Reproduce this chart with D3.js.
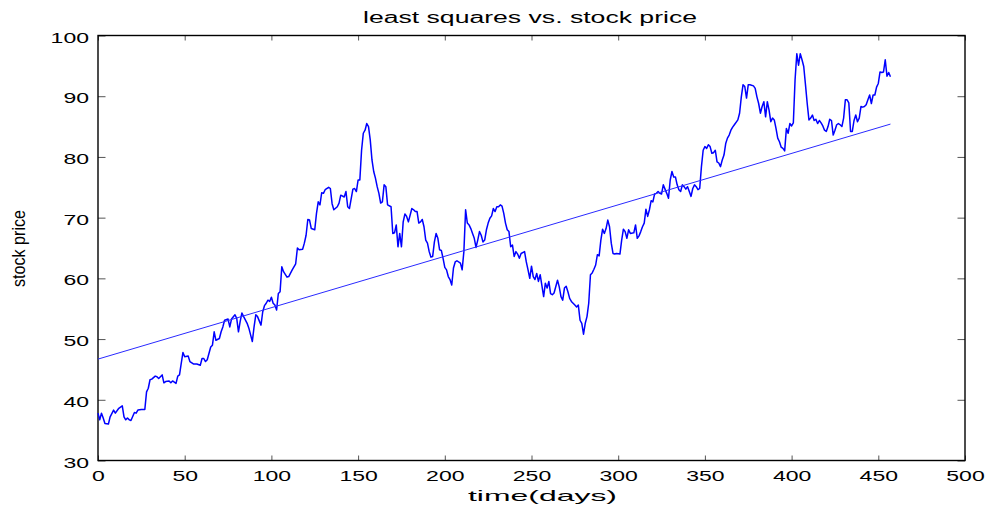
<!DOCTYPE html>
<html lang="en">
<head>
<meta charset="UTF-8">
<title>least squares vs. stock price</title>
<script src="https://cdn.jsdelivr.net/npm/d3@7"></script>
<style>
  body { margin: 0; padding: 0; background: #fff; }
  svg text { font-family: "Liberation Sans", Arial, Helvetica, sans-serif; fill: #000; }
</style>
</head>
<body>
<div id="chart"></div>
<script>
// closing price per trading day
const days = [
  0,1,2,3,4,6,7,9,10,12,14,15,16,17,18,19,21,22,23,25,27,28,29,30,31,33,34,35,37,38,39,41,42,43,45,46,47,48,49,50,
  52,53,55,57,59,60,61,62,63,65,66,67,68,70,71,72,73,75,76,77,79,80,81,82,83,84,86,87,88,89,90,91,92,93,94,95,96,97,98,99,
  100,101,102,103,104,105,106,107,109,110,112,114,115,116,118,119,120,121,122,123,125,126,127,128,129,130,131,133,134,135,136,138,139,140,142,143,144,145,147,148,
  149,150,151,152,153,154,155,156,157,158,159,160,161,162,163,164,165,166,167,169,170,171,172,173,174,175,176,177,178,179,181,182,183,184,185,186,187,188,189,190,
  191,192,193,194,195,196,197,198,199,200,201,202,203,204,205,206,207,209,210,211,212,213,214,215,216,217,218,219,220,221,222,223,224,225,226,227,228,229,230,231,
  232,233,234,235,236,237,238,239,240,241,242,243,244,246,247,248,249,250,251,252,253,254,255,257,258,259,260,261,262,263,265,266,267,268,269,270,271,272,273,275,
  276,277,278,279,280,281,282,283,284,285,286,287,288,289,290,291,292,293,294,295,296,297,298,299,301,302,303,304,305,306,307,309,310,311,312,313,314,315,316,317,
  318,319,320,321,322,323,324,325,326,327,328,329,330,331,332,333,334,335,336,337,338,339,340,341,342,343,344,345,346,347,348,349,350,351,352,353,354,355,356,357,
  358,359,360,361,362,363,364,365,366,367,369,370,371,372,373,374,375,376,378,379,380,381,382,383,384,385,386,387,388,389,390,391,392,393,394,395,396,397,398,399,
  400,401,402,403,404,405,406,407,408,409,410,411,412,413,414,415,416,417,418,419,420,421,422,423,424,425,426,427,428,429,430,431,432,433,434,435,436,437,438,439,
  440,441,442,443,444,445,446,447,448,449,450,451,452,453,454,455,456,457
];
const price = [
  37.8,36.7,37.8,37.0,36.1,36.0,37.2,38.3,37.8,38.6,39.0,37.2,36.7,37.0,36.7,36.6,37.9,37.8,38.3,38.4,38.4,41.3,41.9,43.3,43.4,43.9,43.8,43.5,44.1,42.8,43.0,43.1,42.8,43.1,42.7,43.9,44.1,46.0,47.8,47.1,
  47.2,46.3,45.9,45.9,45.7,46.8,46.8,46.3,46.6,48.7,49.0,51.2,49.8,50.1,51.2,52.0,53.1,53.3,52.0,53.3,54.0,53.4,51.2,52.9,54.3,53.7,52.6,51.8,50.7,49.6,52.0,54.0,53.7,53.0,52.3,54.5,55.5,55.9,56.4,56.2,
  56.9,55.9,55.6,54.8,57.5,57.8,61.9,61.1,60.2,60.3,61.4,62.4,65.0,64.7,64.8,65.8,67.1,69.7,69.6,68.2,68.0,70.7,72.6,72.1,74.1,74.0,74.6,75.0,74.8,72.3,71.3,71.8,72.4,73.7,73.4,74.3,71.8,71.5,74.7,74.8,
  74.3,76.2,76.2,81.1,83.9,84.4,85.5,85.0,82.8,79.5,77.6,76.5,75.1,74.0,72.4,72.6,75.4,75.1,72.1,71.8,67.4,67.5,68.8,65.2,67.4,65.2,69.3,70.6,70.2,69.3,71.5,71.3,71.0,71.0,69.1,69.3,69.7,68.5,66.3,65.8,
  64.4,63.5,63.6,66.0,67.4,66.6,64.7,64.6,63.3,61.8,61.4,60.3,59.8,58.9,61.7,62.7,62.9,62.5,61.4,64.4,71.3,69.1,68.8,68.2,67.4,66.6,65.1,66.3,67.7,67.1,66.0,66.3,68.0,69.1,69.9,70.3,71.5,71.0,71.8,71.8,
  72.1,71.9,70.7,69.1,68.0,67.7,65.2,65.5,63.6,64.4,64.0,63.3,64.1,64.4,62.7,61.4,60.0,62.0,60.3,59.8,60.8,59.5,60.6,57.0,59.2,58.4,59.5,57.5,57.3,57.6,59.7,58.6,57.0,56.4,58.4,58.7,57.8,56.7,56.2,55.6,
  55.3,55.6,53.1,52.6,50.8,52.6,53.7,55.9,60.6,60.9,61.5,62.2,63.9,63.7,66.3,68.1,67.4,68.2,69.6,68.5,65.8,64.1,64.0,64.1,64.0,66.3,68.1,67.7,66.6,68.0,67.4,67.5,68.8,66.6,67.0,67.7,68.5,69.1,71.4,70.2,
  71.3,72.8,72.6,73.9,74.0,74.3,74.0,73.9,75.4,74.7,74.0,73.2,76.2,77.6,76.7,76.7,75.4,74.6,74.3,75.4,75.1,74.7,75.1,74.3,73.5,74.8,75.4,75.1,74.6,74.8,78.4,81.1,81.7,81.4,82.0,81.7,80.6,80.7,81.1,79.2,
  79.0,78.4,79.5,80.3,82.2,83.1,83.6,84.4,84.9,85.3,86.1,87.2,89.9,91.9,91.6,89.7,91.9,91.9,91.7,91.3,89.9,88.8,87.2,88.3,89.1,86.6,89.1,87.7,85.8,86.4,86.1,84.7,83.1,82.5,81.6,81.4,81.0,84.7,83.9,85.5,
  85.1,85.6,92.7,97.0,95.1,97.0,96.0,94.9,91.9,88.8,86.1,86.4,86.9,86.0,86.2,85.5,86.0,85.6,85.1,84.4,84.2,85.0,86.2,86.0,83.6,84.4,85.3,85.5,85.3,85.0,86.4,89.4,89.4,88.9,84.2,84.2,86.0,86.9,85.8,86.4,
  88.3,88.2,88.3,88.6,89.4,90.2,88.8,90.2,90.2,91.5,92.1,94.0,93.9,94.0,96.0,93.3,93.9,93.2
];

// least squares line: price = a + b * day
const fitA = 46.7;
const fitB = 0.0847;

const xTicks = [0, 50, 100, 150, 200, 250, 300, 350, 400, 450, 500];
const yTicks = [30, 40, 50, 60, 70, 80, 90, 100];

const W = 990, H = 505;
const mLeft = 98, mRight = 965, mTop = 35.5, mBottom = 460.5;

const x = d3.scaleLinear().domain([0, 500]).range([mLeft, mRight]);
const y = d3.scaleLinear().domain([30, 100]).range([mBottom, mTop]);

const svg = d3.select("#chart").append("svg")
  .attr("width", W)
  .attr("height", H);

svg.append("rect").attr("width", W).attr("height", H).attr("fill", "#fff");

// ticks (inward, on all four sides)
const labelW = d => String(d).length * 12.8;

const gx = svg.append("g")
  .attr("transform", `translate(0,${mBottom})`)
  .call(d3.axisBottom(x).tickValues(xTicks).tickSize(-5).tickSizeOuter(0).tickPadding(9.5));
gx.selectAll("text")
  .attr("font-size", "15.5px")
  .attr("textLength", labelW)
  .attr("lengthAdjust", "spacingAndGlyphs");

const gy = svg.append("g")
  .attr("transform", `translate(${mLeft},0)`)
  .call(d3.axisLeft(y).tickValues(yTicks).tickSize(-7.5).tickSizeOuter(0).tickPadding(9));
gy.selectAll("text")
  .attr("font-size", "15.5px")
  .attr("dy", "0.42em")
  .attr("textLength", labelW)
  .attr("lengthAdjust", "spacingAndGlyphs");

svg.append("g")
  .attr("transform", `translate(0,${mTop})`)
  .call(d3.axisTop(x).tickValues(xTicks).tickSize(-5).tickSizeOuter(0).tickFormat(""));
svg.append("g")
  .attr("transform", `translate(${mRight},0)`)
  .call(d3.axisRight(y).tickValues(yTicks).tickSize(-7.5).tickSizeOuter(0).tickFormat(""));

svg.selectAll(".domain").remove();
svg.selectAll(".tick line").attr("stroke", "#555").attr("stroke-width", 1);

// axes box
svg.append("rect")
  .attr("x", mLeft).attr("y", mTop)
  .attr("width", mRight - mLeft).attr("height", mBottom - mTop)
  .attr("fill", "none")
  .attr("stroke", "#000")
  .attr("stroke-width", 1.4);

// data
const pts = days.map((d, i) => [d, price[i]]);
const line = d3.line().x(d => x(d[0])).y(d => y(d[1]));

svg.append("path")
  .datum(pts)
  .attr("d", line)
  .attr("fill", "none")
  .attr("stroke", "#0000ff")
  .attr("stroke-width", 1.5)
  .attr("stroke-linejoin", "round");

const d0 = days[0], d1 = days[days.length - 1];
svg.append("path")
  .datum([[d0, fitA + fitB * d0], [d1, fitA + fitB * d1]])
  .attr("d", line)
  .attr("fill", "none")
  .attr("stroke", "#2a2aff")
  .attr("stroke-width", 1);

// labels
svg.append("text")
  .attr("x", 530).attr("y", 23)
  .attr("text-anchor", "middle")
  .attr("font-size", "16px")
  .attr("textLength", 334)
  .attr("lengthAdjust", "spacingAndGlyphs")
  .text("least squares vs. stock price");

svg.append("text")
  .attr("x", 542.5).attr("y", 501)
  .attr("text-anchor", "middle")
  .attr("font-size", "15px")
  .attr("textLength", 149)
  .attr("lengthAdjust", "spacingAndGlyphs")
  .text("time(days)");

svg.append("text")
  .attr("transform", "translate(25,248.5) rotate(-90)")
  .attr("text-anchor", "middle")
  .attr("font-size", "18px")
  .attr("textLength", 77)
  .attr("lengthAdjust", "spacingAndGlyphs")
  .text("stock price");
</script>
</body>
</html>
